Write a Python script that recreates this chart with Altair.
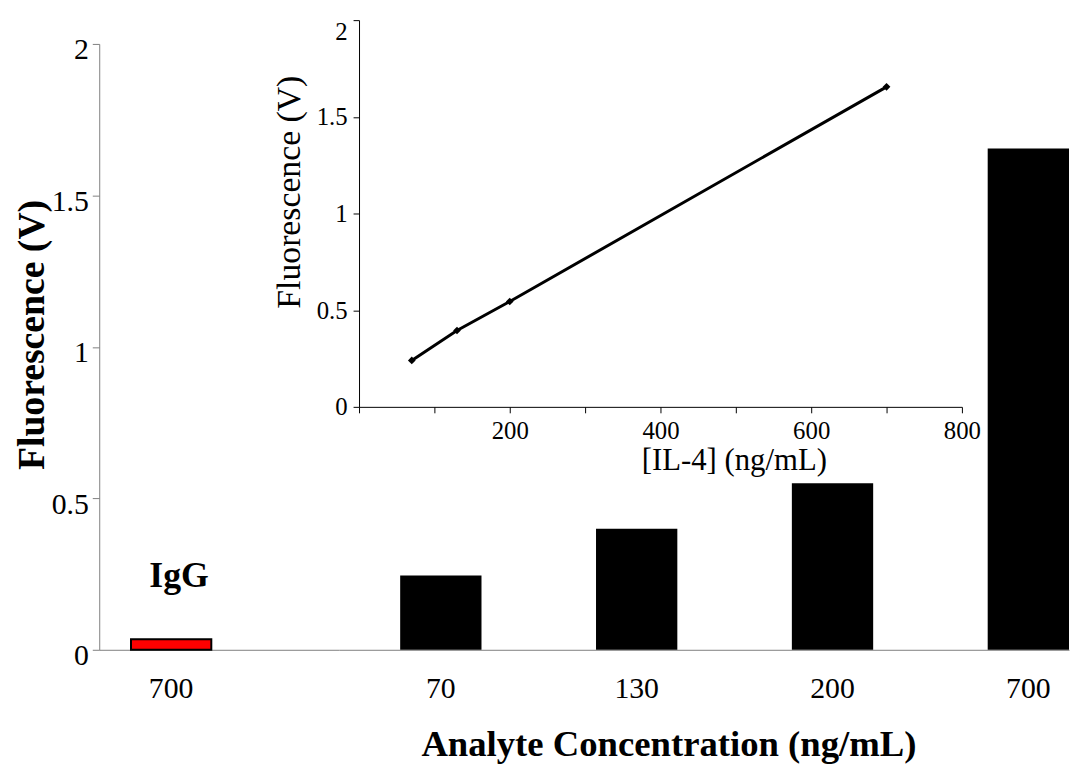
import altair as alt
import pandas as pd

# ---- data ----
igg_label = ["700"]
igg_value = [0.035]
igg_text = ["IgG"]

conc_labels = ["70", "130", "200", "700"]
conc_values = [0.245, 0.40, 0.55, 1.655]

inset_x = [70, 130, 200, 700]
inset_y = [0.24, 0.395, 0.545, 1.655]

y_ticks = [0, 0.5, 1, 1.5, 2]
inset_x_ticks = [0, 100, 200, 300, 400, 500, 600, 700, 800]

FONT = "Liberation Serif"
GREY = "#808080"
H = 611
W_LEFT = 242
W_RIGHT = 736

df_igg = pd.DataFrame({"conc": igg_label, "v": igg_value, "t": igg_text})
df_conc = pd.DataFrame({"conc": conc_labels, "v": conc_values})
df_inset = pd.DataFrame({"x": inset_x, "y": inset_y})

main_y_axis = alt.Axis(
    values=y_ticks, format=".2~f", grid=False, domainColor=GREY, tickColor=GREY,
    tickSize=7, labelPadding=4, labelFontSize=30, labelOffset=6,
    titleFontSize=38, titleFontWeight="bold", titlePadding=0, titleY=293,
)
main_x_axis_left = alt.Axis(
    labelAngle=0, ticks=False, labelPadding=24, domainColor=GREY, labelFontSize=30,
)

# ---- left panel (IgG control) ----
xl = alt.X("conc:N", title=None,
           scale=alt.Scale(paddingInner=0.5, paddingOuter=0.497, align=0.199),
           axis=main_x_axis_left)
yl = alt.Y("v:Q", title="Fluorescence (V)",
           scale=alt.Scale(domain=[0, 2], nice=False), axis=main_y_axis)

left_bar = alt.Chart(df_igg).mark_bar(color="#FF0000", stroke="black", strokeWidth=2).encode(x=xl, y=yl)
left_text = alt.Chart(df_igg).mark_text(
    font=FONT, fontSize=36, fontWeight="bold", dx=8, dy=-53, baseline="alphabetic", color="black"
).encode(x=xl, y=yl, text="t:N")
left = alt.layer(left_bar, left_text).properties(width=W_LEFT, height=H)

# ---- right panel (IL-4 bars + inset) ----
xr = alt.X("conc:N", sort=conc_labels, title="Analyte Concentration (ng/mL)",
           scale=alt.Scale(paddingInner=0.5848, paddingOuter=0.1557, align=1),
           axis=alt.Axis(labelAngle=0, ticks=False, labelPadding=24, domainColor=GREY,
                         labelFontSize=30, titleFontSize=37, titleFontWeight="bold",
                         titlePadding=24, titleX=332))
yr = alt.Y("v:Q", scale=alt.Scale(domain=[0, 2], nice=False), axis=None)
right_bar = alt.Chart(df_conc).mark_bar(color="black").encode(x=xr, y=yr)

ix = alt.X("x:Q", title="[IL-4] (ng/mL)",
           scale=alt.Scale(domain=[0, 800], range=[20, 628], nice=False, zero=False),
           axis=alt.Axis(orient="bottom", offset=-245, values=inset_x_ticks,
                         labelExpr="datum.value > 0 && datum.value % 200 == 0 ? datum.label : ''",
                         labelFlush=False,
                         grid=False, domainColor="black", tickColor="black", tickSize=6,
                         labelPadding=6, labelFontSize=25, titleFontSize=31,
                         titleFontWeight="normal", titlePadding=2, titleX=398))
iy = alt.Y("y:Q", title="Fluorescence (V)",
           scale=alt.Scale(domain=[0, 2], range=[366, -24], nice=False),
           axis=alt.Axis(orient="left", offset=-20, values=y_ticks, format=".2~f",
                         grid=False, domainColor="black", tickColor="black", tickSize=6,
                         labelPadding=6, labelFontSize=25,
                         labelBaseline={"condition": {"test": "datum.value >= 2", "value": "top"}, "value": "middle"},
                         titleFontSize=34, titleFontWeight="normal", titlePadding=10, titleY=149))

inset_line = alt.Chart(df_inset).mark_line(color="black", strokeWidth=3).encode(x=ix, y=iy)
inset_pts = alt.Chart(df_inset).mark_point(shape="diamond", filled=True, color="black", size=60, opacity=1).encode(x=ix, y=iy)
inset = alt.layer(inset_line, inset_pts)

right = alt.layer(right_bar, inset).resolve_scale(x="independent", y="independent").properties(width=W_RIGHT, height=H)

chart = alt.hconcat(left, right, spacing=0, bounds="flush").properties(
    padding={"top": 8, "left": 5, "right": 0, "bottom": 5}
).configure_view(stroke="transparent").configure_axis(
    labelFont=FONT, titleFont=FONT, labelColor="black", titleColor="black"
)

chart.save("out.html", embed_options={"renderer": "svg", "actions": False})
